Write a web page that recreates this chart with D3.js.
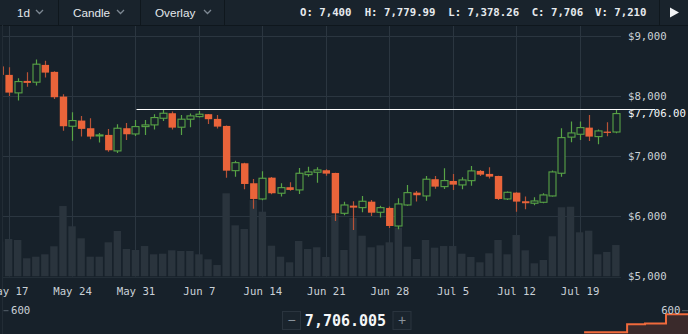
<!DOCTYPE html>
<html><head><meta charset="utf-8">
<script src="https://cdn.jsdelivr.net/npm/d3@7/dist/d3.min.js"></script>
<style>
html,body{margin:0;padding:0;background:#17212a;overflow:hidden}
svg{display:block}
</style></head>
<body><svg id="c" width="688" height="334"></svg>
<script>
// ---------- DATA ----------
const dates = ["2018-05-16","2018-05-17","2018-05-18","2018-05-19","2018-05-20","2018-05-21","2018-05-22","2018-05-23","2018-05-24","2018-05-25","2018-05-26","2018-05-27","2018-05-28","2018-05-29","2018-05-30","2018-05-31",
"2018-06-01","2018-06-02","2018-06-03","2018-06-04","2018-06-05","2018-06-06","2018-06-07","2018-06-08","2018-06-09","2018-06-10","2018-06-11","2018-06-12","2018-06-13","2018-06-14","2018-06-15","2018-06-16","2018-06-17","2018-06-18","2018-06-19","2018-06-20","2018-06-21","2018-06-22","2018-06-23","2018-06-24","2018-06-25","2018-06-26","2018-06-27","2018-06-28","2018-06-29","2018-06-30",
"2018-07-01","2018-07-02","2018-07-03","2018-07-04","2018-07-05","2018-07-06","2018-07-07","2018-07-08","2018-07-09","2018-07-10","2018-07-11","2018-07-12","2018-07-13","2018-07-14","2018-07-15","2018-07-16","2018-07-17","2018-07-18","2018-07-19","2018-07-20","2018-07-21","2018-07-22","2018-07-23"];
const opens  = [8490,8349,8050,8249,8228,8515,8399,7988,7496,7590,7463,7335,7352,7086,7463,7368,7490,7518,7629,7712,7480,7613,7656,7696,7618,7501,6758,6881,6549,6288,6642,6383,6483,6438,6692,6732,6765,6720,6050,6177,6144,6243,6067,6139,5839,6188,6393,6338,6616,6493,6587,6521,6592,6754,6704,6670,6288,6393,6250,6217,6233,6338,6715,7315,7363,7473,7324,7407,7400];
const highs  = [8560,8477,8294,8394,8603,8582,8410,8028,7729,7668,7629,7385,7452,7530,7551,7601,7601,7696,7779,7739,7684,7706,7751,7700,7684,7510,6924,6890,6620,6749,6654,6549,6566,6803,6825,6815,6782,6725,6243,6250,6338,6272,6177,6161,6299,6521,6421,6670,6670,6798,6704,6649,6837,6770,6815,6675,6410,6398,6327,6316,6383,6759,7463,7573,7573,7684,7440,7562,7779.99];
const lows   = [8320,8000,7922,8150,8171,8304,7950,7423,7257,7324,7280,7224,7074,7053,7269,7335,7352,7440,7584,7440,7352,7480,7640,7535,7457,6642,6659,6449,6127,6268,6366,6327,6426,6371,6659,6559,6675,5923,6017,5773,6067,6006,5978,5806,5784,6177,6244,6260,6459,6454,6438,6449,6509,6670,6626,6272,6272,6077,6117,6183,6217,6327,6659,7230,7269,7252,7197,7330,7378.26];
const closes = [8349,8055,8238,8216,8527,8387,7978,7496,7590,7452,7324,7352,7097,7463,7363,7490,7518,7640,7712,7473,7613,7668,7696,7613,7490,6758,6891,6537,6288,6632,6383,6476,6438,6715,6737,6770,6709,6050,6188,6144,6250,6060,6144,5839,6205,6393,6350,6616,6493,6593,6526,6604,6754,6692,6659,6288,6399,6244,6217,6255,6355,6737,7307,7385,7473,7324,7418,7385,7706];
const volumes = [8000,8590,8360,4170,4530,5080,6920,16140,11500,8750,4530,4530,7830,10420,6300,6070,6980,5080,5220,6000,5840,5840,5080,3940,2630,19050,11720,10880,17500,14840,7050,4530,3250,8130,6300,6690,4470,14080,6070,13400,9340,6690,7140,7830,11180,6820,4010,8360,6600,6980,6980,5220,4470,3250,5310,8360,5080,9500,6000,3020,3780,9210,15850,15980,10120,10490,5080,5610,7210];

const priceTicks = [5000,6000,7000,8000,9000];
const dateTicks = ["2018-05-17","2018-05-24","2018-05-31","2018-06-07","2018-06-14","2018-06-21","2018-06-28","2018-07-05","2018-07-12","2018-07-19"];
const lastPrice = 7706;
const markerLevel = 7780;
const markerFrom = "2018-05-31", markerTo = "2018-07-27";
const header = [["O: ","7,400"],["H: ","7,779.99"],["L: ","7,378.26"],["C: ","7,706"],["V: ","7,210"]];
const menus = ["1d","Candle","Overlay"];
const midPrice = "7,706.005";
const depthPrices = [7712.98, 7714.23, 7714.75, 7715.36, 7716.5];
const depthCum    = [44, 250, 272, 507, 507];
const depthTick = 600;

// ---------- SETUP ----------
const W = 688, H = 334;
const svg = d3.select("#c");
const BG = "#17212a", GRID = "#2b3640", UP = "#58a446", DOWN = "#ea643a";
const MONO = "'DejaVu Sans Mono','Liberation Mono',monospace";
const SANS = "'Liberation Sans',Arial,sans-serif";
const parse = d3.utcParse("%Y-%m-%d");

const plot = {left:3, right:621, top:25, bottom:276.5};
const x = d3.scaleUtc().domain([parse("2018-05-17"), parse("2018-07-19")]).range([8.6, 579.6]);
const y = d3.scaleLinear().domain([5000,9000]).range([276.5,35.7]);
const yv = d3.scaleLinear().domain([0,55000]).range([276.5,36.3]);

const data = dates.map((d,i)=>({date:parse(d),o:opens[i],h:highs[i],l:lows[i],c:closes[i],v:volumes[i]}));

svg.append("rect").attr("width",W).attr("height",H).attr("fill",BG);

// clip
svg.append("defs").append("clipPath").attr("id","pc").append("rect")
  .attr("x",plot.left).attr("y",plot.top).attr("width",plot.right-plot.left).attr("height",plot.bottom-plot.top);

// toolbar
const tb = svg.append("g");
tb.append("rect").attr("width",W).attr("height",25).attr("fill","#19232c");
tb.append("line").attr("x1",0).attr("x2",W).attr("y1",25.5).attr("y2",25.5).attr("stroke","#0f171d");
[58.5,140.5,224.5,659.5].forEach(xx=>tb.append("line").attr("x1",xx).attr("x2",xx).attr("y1",0).attr("y2",25).attr("stroke","#0f171d"));
const menuX = [17,73,155], chevX=[39.5,120.5,207.5];
menus.forEach((m,i)=>{
  tb.append("text").attr("x",menuX[i]).attr("y",12.5).attr("dy","0.35em").attr("font-family",SANS)
    .attr("font-size",11.7).attr("fill","#e3e8ec").text(m);
  tb.append("path").attr("d",`M${chevX[i]-3.5},${10}L${chevX[i]},${13.5}L${chevX[i]+3.5},${10}`)
    .attr("fill","none").attr("stroke","#7d8893").attr("stroke-width",1.3);
});
const hx = [300,364.7,448.3,531.7,595];
header.forEach((h,i)=>{
  tb.append("text").attr("x",hx[i]).attr("y",12.5).attr("dy","0.35em").attr("font-family",MONO)
    .attr("font-size",10.7).attr("font-weight","bold").attr("fill","#e6eaee").text(h[0]+h[1]);
});
tb.append("path").attr("d","M670,7.5L679,12.5L670,17.5Z").attr("fill","#f2f4f6");

// grid
const g = svg.append("g");
g.selectAll(".vg").data(dateTicks).join("line")
  .attr("x1",d=>Math.round(x(parse(d)))+0.5).attr("x2",d=>Math.round(x(parse(d)))+0.5)
  .attr("y1",plot.top+1).attr("y2",plot.bottom).attr("stroke",GRID);
g.selectAll(".hg").data(priceTicks).join("line")
  .attr("x1",plot.left).attr("x2",plot.right)
  .attr("y1",d=>Math.round(y(d))+0.5).attr("y2",d=>Math.round(y(d))+0.5)
  .attr("stroke",d=>d===5000?"#232e37":GRID);
g.append("line").attr("x1",2.5).attr("x2",2.5).attr("y1",plot.top).attr("y2",H).attr("stroke","#222c35");

// volume + candles
const pc = svg.append("g").attr("clip-path","url(#pc)");
const bw = 7.4;
pc.selectAll(".vol").data(data).join("rect")
  .attr("x",d=>x(d.date)-bw/2).attr("width",bw)
  .attr("y",d=>yv(d.v)).attr("height",d=>yv(0)-yv(d.v)).attr("fill","#2a343d");

const cg = pc.selectAll(".cd").data(data).join("g");
cg.append("line")
  .attr("x1",d=>Math.round(x(d.date))+0.5).attr("x2",d=>Math.round(x(d.date))+0.5)
  .attr("y1",d=>y(d.h)).attr("y2",d=>y(d.l))
  .attr("stroke",d=>d.c>=d.o?UP:"#b85237").attr("stroke-width",1.2);
cg.append("rect")
  .attr("x",d=>d.c>=d.o?Math.round(x(d.date))-3:x(d.date)-bw/2+0.5)
  .attr("width",d=>d.c>=d.o?7:bw)
  .attr("y",d=>y(Math.max(d.o,d.c)))
  .attr("height",d=>Math.max(1,Math.abs(y(d.o)-y(d.c))))
  .attr("fill",d=>d.c>=d.o?BG:DOWN)
  .attr("stroke",d=>d.c>=d.o?UP:"none").attr("stroke-width",1.1);

// marker line
svg.append("line").attr("x1",x(parse(markerFrom))+1).attr("x2",x(parse(markerTo))+3)
  .attr("y1",Math.round(y(markerLevel))+0.5).attr("y2",Math.round(y(markerLevel))+0.5)
  .attr("stroke","#ffffff").attr("stroke-width",1);

// y axis
const ya = svg.append("g").attr("transform",`translate(${plot.right},0)`)
  .call(d3.axisRight(y).tickValues(priceTicks).tickSize(0).tickPadding(7).tickFormat(d=>"$"+d3.format(",")(d)));
ya.select(".domain").remove();
ya.selectAll("text").attr("font-family",MONO).attr("font-size",10.7).attr("fill","#c9d0d6");
svg.append("text").attr("x",628).attr("y",y(lastPrice)).attr("dy","0.35em").attr("font-family",MONO)
  .attr("font-size",10.7).attr("fill","#f4f6f8").text("$"+d3.format(",.2f")(lastPrice));

// x axis
const xa = svg.append("g").attr("transform",`translate(0,277)`)
  .call(d3.axisBottom(x).tickValues(dateTicks.map(parse)).tickSize(0).tickPadding(10).tickFormat(d3.utcFormat("%b %-d")));
xa.select(".domain").remove();
xa.selectAll("text").attr("font-family",MONO).attr("font-size",10.7).attr("fill","#c9d0d6");

// bottom depth area
const dx = d3.scaleLinear().domain([7696,7716]).range([0,688]);
const dy = d3.scaleLinear().domain([0,depthTick]).range([334,310.7]);
const area = d3.area().curve(d3.curveStepAfter).x((d,i)=>dx(depthPrices[i])).y0(H+2).y1((d,i)=>dy(depthCum[i]));
const line = d3.line().curve(d3.curveStepAfter).x((d,i)=>dx(depthPrices[i])).y((d,i)=>dy(depthCum[i]));
svg.append("path").datum(depthPrices).attr("d",area).attr("fill","#3a2a2b");
svg.append("path").datum(depthPrices).attr("d",line).attr("fill","none").attr("stroke","#f06a3c").attr("stroke-width",2);
// depth ticks
svg.append("line").attr("x1",3.5).attr("x2",8.5).attr("y1",dy(depthTick)).attr("y2",dy(depthTick)).attr("stroke","#56616b");
svg.append("text").attr("x",11).attr("y",dy(depthTick)).attr("dy","0.35em").attr("font-family",MONO).attr("font-size",10.7).attr("fill","#c9d0d6").text(depthTick);
svg.append("line").attr("x1",682).attr("x2",688).attr("y1",dy(depthTick)).attr("y2",dy(depthTick)).attr("stroke","#56616b");
svg.append("text").attr("x",680.5).attr("y",dy(depthTick)).attr("dy","0.35em").attr("text-anchor","end").attr("font-family",MONO).attr("font-size",10.7).attr("fill","#c9d0d6").text(depthTick);

// mid price controls
const mp = svg.append("g");
[[282,"−"],[392.5,"+"]].forEach(b=>{
  mp.append("rect").attr("x",b[0]+0.5).attr("y",311.5).attr("width",18).attr("height",18).attr("fill","#1a242d").attr("stroke","#2a343e");
  mp.append("text").attr("x",b[0]+9.5).attr("y",320.5).attr("dy","0.35em").attr("text-anchor","middle")
    .attr("font-family",SANS).attr("font-size",14).attr("fill","#8a949d").text(b[1]);
});
mp.append("text").attr("x",345.5).attr("y",321).attr("dy","0.36em").attr("text-anchor","middle")
  .attr("font-family",MONO).attr("font-size",15).attr("font-weight","bold").attr("fill","#f4f6f8").text(midPrice);
</script>
</body></html>
